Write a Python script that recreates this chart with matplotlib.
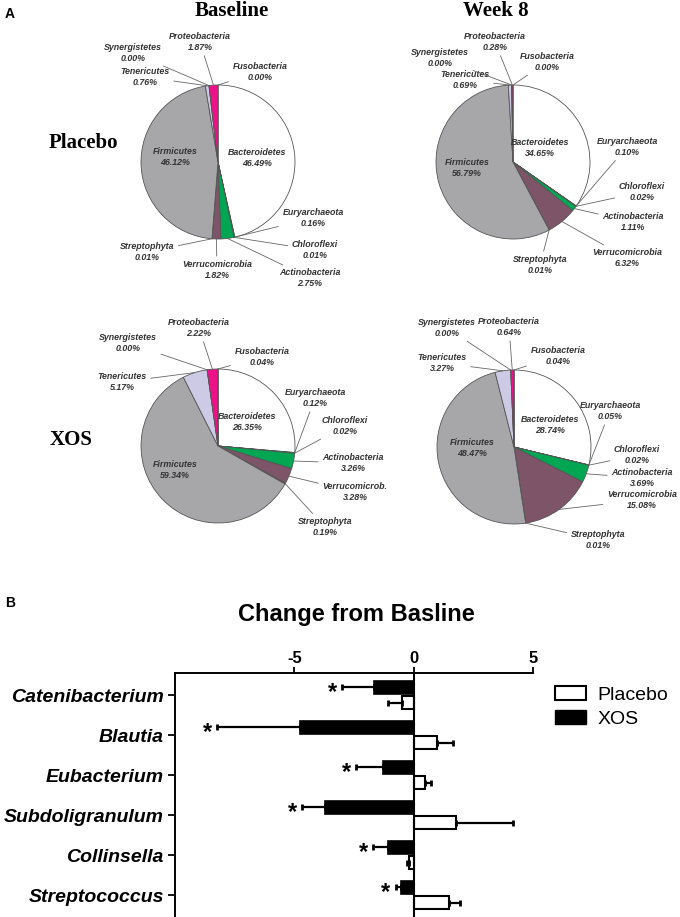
import matplotlib
matplotlib.use("Agg")
import numpy as np
import matplotlib.pyplot as plt
from matplotlib.patches import Patch

plt.rcParams["font.family"] = ["Liberation Sans", "DejaVu Sans"]

# Panel A: phylum composition (%)
phyla = ["Bacteroidetes", "Euryarchaeota", "Chloroflexi", "Actinobacteria",
         "Verrucomicrobia", "Streptophyta", "Firmicutes", "Tenericutes",
         "Synergistetes", "Proteobacteria", "Fusobacteria"]
placebo_base = [46.49, 0.16, 0.01, 2.75, 1.82, 0.01, 46.12, 0.76, 0.00, 1.87, 0.00]
placebo_wk8 = [34.65, 0.10, 0.02, 1.11, 6.32, 0.01, 56.79, 0.69, 0.00, 0.28, 0.00]
xos_base = [26.35, 0.12, 0.02, 3.26, 3.28, 0.19, 59.34, 5.17, 0.00, 2.22, 0.04]
xos_wk8 = [28.74, 0.05, 0.02, 3.69, 15.08, 0.01, 48.47, 3.27, 0.00, 0.64, 0.04]

phylum_colors = ["#ffffff", "#1a2f6e", "#9b1c1c", "#00a651", "#7d5468", "#c47a3a",
                 "#a7a7aa", "#cdcae6", "#8a8ac8", "#ee1289", "#4b2a6e"]

# Panel B: change from baseline
genera = ["Catenibacterium", "Blautia", "Eubacterium", "Subdoligranulum",
          "Collinsella", "Streptococcus"]
xos_change = [-1.65, -4.78, -1.28, -3.70, -1.08, -0.52]
xos_err = [1.34, 3.44, 1.12, 0.97, 0.61, 0.23]
placebo_change = [-0.49, 0.97, 0.46, 1.78, -0.18, 1.50]
placebo_err = [0.59, 0.67, 0.27, 2.37, 0.09, 0.45]

W, H = 680, 917
fig = plt.figure(figsize=(W / 100, H / 100), dpi=100)

# label positions (pixel centres) for each pie
R = 77
pies = [
    (placebo_base, (218, 162), {
        "Proteobacteria": (200, 42), "Synergistetes": (133, 53), "Tenericutes": (145, 77),
        "Fusobacteria": (260, 72), "Bacteroidetes": (257, 158), "Firmicutes": (175, 157),
        "Euryarchaeota": (313, 218), "Chloroflexi": (315, 250), "Actinobacteria": (310, 278),
        "Verrucomicrobia": (217, 270), "Streptophyta": (147, 252)}),
    (placebo_wk8, (513, 162), {
        "Proteobacteria": (495, 42), "Synergistetes": (440, 58), "Tenericutes": (465, 80),
        "Fusobacteria": (547, 62), "Bacteroidetes": (540, 148), "Firmicutes": (467, 168),
        "Euryarchaeota": (627, 147), "Chloroflexi": (642, 192), "Actinobacteria": (633, 222),
        "Verrucomicrobia": (627, 258), "Streptophyta": (540, 265)}),
    (xos_base, (218, 446), {
        "Proteobacteria": (199, 328), "Synergistetes": (128, 343), "Tenericutes": (122, 382),
        "Fusobacteria": (262, 357), "Bacteroidetes": (247, 422), "Firmicutes": (175, 470),
        "Euryarchaeota": (315, 398), "Chloroflexi": (345, 426), "Actinobacteria": (353, 463),
        "Verrucomicrobia": (355, 492), "Streptophyta": (325, 527)}),
    (xos_wk8, (514, 447), {
        "Proteobacteria": (509, 327), "Synergistetes": (447, 328), "Tenericutes": (442, 363),
        "Fusobacteria": (558, 356), "Bacteroidetes": (550, 425), "Firmicutes": (472, 448),
        "Euryarchaeota": (610, 411), "Chloroflexi": (637, 455), "Actinobacteria": (642, 478),
        "Verrucomicrobia": (642, 500), "Streptophyta": (598, 540)}),
]
inner = ["Bacteroidetes", "Firmicutes"]
short_names = {2: {"Verrucomicrobia": "Verrucomicrob."}}

for i, (vals, (cx, cy), pos) in enumerate(pies):
    ax = fig.add_axes([(cx - R) / W, 1 - (cy + R) / H, 2 * R / W, 2 * R / H])
    wedges, _ = ax.pie(vals, colors=phylum_colors, startangle=90, counterclock=False,
                       radius=1, wedgeprops=dict(edgecolor="#555555", linewidth=0.6))
    ax.set_xlim(-1, 1)
    ax.set_ylim(-1, 1)
    for w in wedges:
        w.set_clip_on(False)
    for name, w, v in zip(phyla, wedges, vals):
        label = short_names.get(i, {}).get(name, name) + "\n%.2f%%" % v
        tx, ty = pos[name]
        style = dict(ha="center", va="center", fontsize=6.4, style="italic",
                     fontweight="bold", color="#333333", linespacing=1.2)
        if name in inner:
            fig.text(tx / W, 1 - ty / H, label, **style)
            continue
        ang = np.deg2rad((w.theta1 + w.theta2) / 2)
        ax.annotate(label, xy=(np.cos(ang), np.sin(ang)), xycoords="data",
                    xytext=(tx, H - ty), textcoords="figure pixels",
                    arrowprops=dict(arrowstyle="-", color="#666666", lw=0.6,
                                    shrinkA=1, shrinkB=0),
                    annotation_clip=False, **style)

serif = dict(family=["Liberation Serif", "DejaVu Serif"], fontweight="bold")
fig.text(232 / W, 1 - 11 / H, "Baseline", ha="center", va="center", fontsize=15, **serif)
fig.text(496 / W, 1 - 11 / H, "Week 8", ha="center", va="center", fontsize=15, **serif)
fig.text(83 / W, 1 - 143 / H, "Placebo", ha="center", va="center", fontsize=15, **serif)
fig.text(71 / W, 1 - 440 / H, "XOS", ha="center", va="center", fontsize=15, **serif)
fig.text(10 / W, 1 - 14 / H, "A", ha="center", va="center", fontsize=10, fontweight="bold")
fig.text(10 / W, 1 - 603 / H, "B", ha="center", va="center", fontsize=10, fontweight="bold")

# Panel B
axb = fig.add_axes([175 / W, 0, (533 - 175) / W, (917 - 673) / H])
y = np.arange(len(genera))
off, bh = 0.19, 0.31
axb.barh(y - off, xos_change, height=bh, color="black", edgecolor="black", lw=1.2)
axb.barh(y + off, placebo_change, height=bh, color="white", edgecolor="black", lw=1.5)
xe = np.array(xos_err)
pe = np.array(placebo_err)
xos_c = np.array(xos_change)
pl_c = np.array(placebo_change)
axb.errorbar(xos_c, y - off,
             xerr=[np.where(xos_c < 0, xe, 0), np.where(xos_c > 0, xe, 0)],
             fmt="none", ecolor="black", elinewidth=1.6, capsize=2.5, capthick=2)
axb.errorbar(pl_c, y + off,
             xerr=[np.where(pl_c < 0, pe, 0), np.where(pl_c > 0, pe, 0)],
             fmt="none", ecolor="black", elinewidth=1.6, capsize=2.5, capthick=2)
for yi, v, e in zip(y, xos_change, xos_err):
    axb.text(v - e - 0.42, yi - off + 0.14, "*", ha="center", va="center",
             fontsize=17, fontweight="bold")
axb.axvline(0, color="black", lw=1.5)
axb.set_xlim(-10, 5)
axb.set_ylim(len(genera) - 0.45, -0.55)
axb.xaxis.tick_top()
axb.set_xticks([-5, 0, 5])
axb.set_xticklabels(["-5", "0", "5"], fontsize=12, fontweight="bold")
axb.set_yticks(y)
axb.set_yticklabels(genera, fontsize=14, fontweight="bold", style="italic")
axb.tick_params(axis="x", direction="out", length=4, width=1.3, pad=1)
axb.tick_params(axis="y", direction="out", length=5, width=1.3, pad=3)
for s in ["right", "bottom"]:
    axb.spines[s].set_visible(False)
for s in ["left", "top"]:
    axb.spines[s].set_linewidth(1.4)

fig.text(356 / W, 1 - 615 / H, "Change from Basline", ha="center", va="center",
         fontsize=17, fontweight="bold")

handles = [Patch(facecolor="white", edgecolor="black", lw=1.5, label="Placebo"),
           Patch(facecolor="black", edgecolor="black", label="XOS")]
fig.legend(handles=handles, loc="upper left", bbox_to_anchor=(537 / W, 1 - 668 / H),
           frameon=False, fontsize=14, handlelength=1.6, handleheight=0.8,
           handletextpad=0.6, labelspacing=0.3)

fig.savefig("out.png", dpi=100)
